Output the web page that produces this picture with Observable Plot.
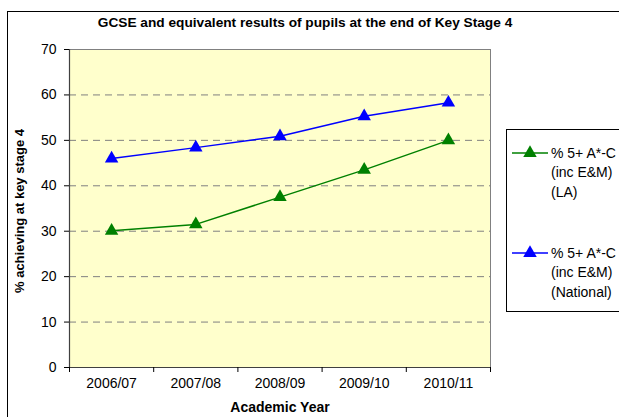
<!DOCTYPE html>
<html>
<head>
<meta charset="utf-8">
<script src="https://cdn.jsdelivr.net/npm/d3@7"></script>
<script src="https://cdn.jsdelivr.net/npm/@observablehq/plot@0.6"></script>
<style>
  html, body { margin: 0; padding: 0; background: #fff; }
  svg { display: block; font-family: "Liberation Sans", Arial, sans-serif; }
</style>
</head>
<body>
<div id="chart"></div>
<script>
const years = ["2006/07", "2007/08", "2008/09", "2009/10", "2010/11"];
const laValues = [30.1, 31.5, 37.5, 43.5, 50.0];
const nationalValues = [46.0, 48.4, 50.9, 55.3, 58.3];
const yTicks = [0, 10, 20, 30, 40, 50, 60, 70];
const gridValues = [10, 20, 30, 40, 50, 60];
const seriesNames = ["% 5+ A*-C (inc E&M) (LA)", "% 5+ A*-C (inc E&M) (National)"];
const seriesColors = ["#008000", "#0000FF"];
const titleText = "GCSE and equivalent results of pupils at the end of Key Stage 4";
const yTitle = "% achieving at key stage 4";
const xTitle = "Academic Year";

const rows = [];
years.forEach((y, i) => {
  rows.push({series: seriesNames[0], x: i + 0.5, value: laValues[i]});
  rows.push({series: seriesNames[1], x: i + 0.5, value: nationalValues[i]});
});

const W = 619, H = 417;
const plot = Plot.plot({
  width: W,
  height: H,
  marginLeft: 69,
  marginRight: 129,
  marginTop: 49,
  marginBottom: 50,
  style: {fontFamily: '"Liberation Sans", Arial, sans-serif', fontSize: "14px", color: "#000", background: "transparent"},
  x: {type: "linear", domain: [0, years.length]},
  y: {domain: [0, 70]},
  color: {domain: seriesNames, range: seriesColors},
  marks: [
    Plot.frame({fill: "#FFFFCC", stroke: "#808080", strokeWidth: 1}),
    Plot.ruleY(gridValues, {stroke: "#808080", strokeDasharray: "7,5", strokeWidth: 1}),
    Plot.ruleX([0], {stroke: "#404040", strokeWidth: 1.2}),
    Plot.ruleY([0], {stroke: "#404040", strokeWidth: 1.2}),
    Plot.axisY({ticks: yTicks, tickSize: 5, tickPadding: 8, label: null, stroke: "#000", fontSize: 14}),
    Plot.axisX({ticks: d3.range(years.length + 1), tickFormat: () => "", tickSize: 5, label: null}),
    Plot.axisX({ticks: years.map((_, i) => i + 0.5), tickFormat: d => years[Math.floor(d)], tickSize: 0, tickPadding: 11, label: null, fontSize: 14}),
    Plot.line(rows, {x: "x", y: "value", z: "series", stroke: "series", strokeWidth: 1.5}),
    Plot.dot(rows, {x: "x", y: "value", fill: "series", symbol: "triangle", r: 5, stroke: null})
  ]
});

const svg = d3.select(plot);
// outer chart border
svg.insert("rect", ":first-child")
  .attr("x", 7.5).attr("y", 11.5).attr("width", 700).attr("height", 500)
  .attr("fill", "#fff").attr("stroke", "#000").attr("stroke-width", 1);

svg.append("text").attr("x", 305).attr("y", 27).attr("text-anchor", "middle")
  .attr("font-weight", "bold").attr("font-size", 13.7).attr("fill", "#000").text(titleText);
svg.append("text").attr("transform", "translate(24,211) rotate(-90)").attr("text-anchor", "middle")
  .attr("font-weight", "bold").attr("font-size", 13).attr("fill", "#000").text(yTitle);
svg.append("text").attr("x", 280).attr("y", 412).attr("text-anchor", "middle")
  .attr("font-weight", "bold").attr("font-size", 14).attr("fill", "#000").text(xTitle);

// legend
const lg = svg.append("g").attr("text-anchor", "start");
lg.append("rect").attr("x", 506.5).attr("y", 129.5).attr("width", 200).attr("height", 182)
  .attr("fill", "#fff").attr("stroke", "#000");
const legendLines = [["% 5+ A*-C", "(inc E&M)", "(LA)"], ["% 5+ A*-C", "(inc E&M)", "(National)"]];
const legendY = [153, 253];
legendLines.forEach((lines, k) => {
  const y0 = legendY[k];
  lg.append("line").attr("x1", 512).attr("x2", 548).attr("y1", y0).attr("y2", y0)
    .attr("stroke", seriesColors[k]).attr("stroke-width", 1.5);
  lg.append("path").attr("d", d3.symbol(d3.symbolTriangle, Math.PI * 25)())
    .attr("transform", `translate(530,${y0})`).attr("fill", seriesColors[k]);
  lines.forEach((t, j) => {
    lg.append("text").attr("x", 551).attr("y", y0 + j * 19.5).attr("dy", "0.35em")
      .attr("text-anchor", "start").attr("font-size", 14).attr("fill", "#000").text(t);
  });
});

document.getElementById("chart").appendChild(plot);
</script>
</body>
</html>
